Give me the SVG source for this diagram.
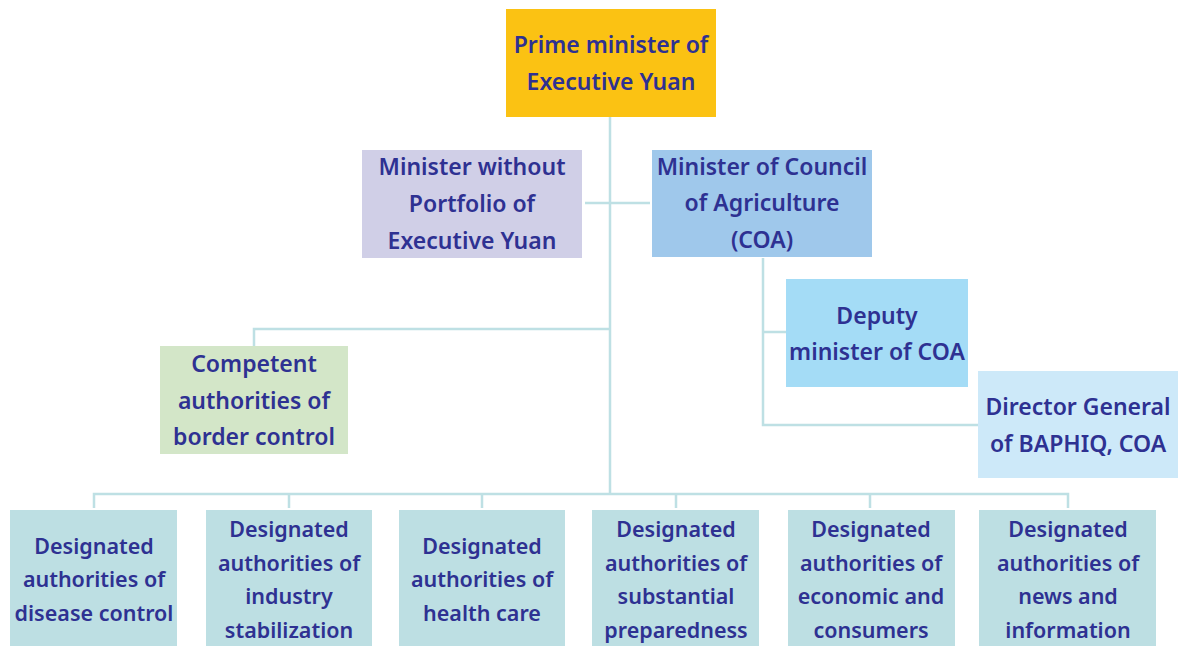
<svg xmlns="http://www.w3.org/2000/svg" width="1178" height="646" viewBox="0 0 1178 646">
<style>
.t{font-family:"Noto Sans","Open Sans","Liberation Sans",sans-serif;font-weight:600;fill:#2E3192;text-anchor:middle;font-size:23px}
.b{font-size:21.5px}
.c{fill:none;stroke:#BEE0E4;stroke-width:2.5}
</style>
<rect width="1178" height="646" fill="#fff"/>
<g id="connectors" class="c">
<path d="M610 117V494"/>
<path d="M585 203H650"/>
<path d="M763 258V425H978M763 332H786"/>
<path d="M610 329H254V346"/>
<path d="M94 508V494H1068V508M289 494V508M482 494V508M676 494V508M870 494V508"/>
</g>
<g id="prime"><rect x="506" y="9" width="210" height="108" fill="#FBC213"/>
<text class="t" x="611" y="53">Prime minister of</text><text class="t" x="611" y="90">Executive Yuan</text></g>
<g id="portfolio"><rect x="362" y="150" width="220" height="108" fill="#D0CFE7"/>
<text class="t" x="472" y="175">Minister without</text><text class="t" x="472" y="212">Portfolio of</text><text class="t" x="472" y="249">Executive Yuan</text></g>
<g id="coa"><rect x="652" y="150" width="220" height="107" fill="#9FC8EB"/>
<text class="t" x="762" y="175">Minister of Council</text><text class="t" x="762" y="211">of Agriculture</text><text class="t" x="762" y="248">(COA)</text></g>
<g id="deputy"><rect x="786" y="279" width="182" height="108" fill="#A4DCF6"/>
<text class="t" x="877" y="324">Deputy</text><text class="t" x="877" y="360">minister of COA</text></g>
<g id="director"><rect x="978" y="371" width="200" height="107" fill="#CDE9F9"/>
<text class="t" x="1078" y="415">Director General</text><text class="t" x="1078" y="452">of BAPHIQ, COA</text></g>
<g id="border"><rect x="160" y="346" width="188" height="108" fill="#D3E6C8"/>
<text class="t" x="254" y="372">Competent</text><text class="t" x="254" y="409">authorities of</text><text class="t" x="254" y="445">border control</text></g>
<g id="disease"><rect x="10" y="510" width="167" height="136" fill="#BDDFE3"/>
<text class="t b" x="94" y="554">Designated</text><text class="t b" x="94" y="587">authorities of</text><text class="t b" x="94" y="621">disease control</text></g>
<g id="industry"><rect x="206" y="510" width="166" height="136" fill="#BDDFE3"/>
<text class="t b" x="289" y="537">Designated</text><text class="t b" x="289" y="571">authorities of</text><text class="t b" x="289" y="604">industry</text><text class="t b" x="289" y="638">stabilization</text></g>
<g id="health"><rect x="399" y="510" width="166" height="136" fill="#BDDFE3"/>
<text class="t b" x="482" y="554">Designated</text><text class="t b" x="482" y="587">authorities of</text><text class="t b" x="482" y="621">health care</text></g>
<g id="substantial"><rect x="592" y="510" width="167" height="136" fill="#BDDFE3"/>
<text class="t b" x="676" y="537">Designated</text><text class="t b" x="676" y="571">authorities of</text><text class="t b" x="676" y="604">substantial</text><text class="t b" x="676" y="638">preparedness</text></g>
<g id="economic"><rect x="788" y="510" width="167" height="136" fill="#BDDFE3"/>
<text class="t b" x="871" y="537">Designated</text><text class="t b" x="871" y="571">authorities of</text><text class="t b" x="871" y="604">economic and</text><text class="t b" x="871" y="638">consumers</text></g>
<g id="news"><rect x="979" y="510" width="177" height="136" fill="#BDDFE3"/>
<text class="t b" x="1068" y="537">Designated</text><text class="t b" x="1068" y="571">authorities of</text><text class="t b" x="1068" y="604">news and</text><text class="t b" x="1068" y="638">information</text></g>
</svg>
